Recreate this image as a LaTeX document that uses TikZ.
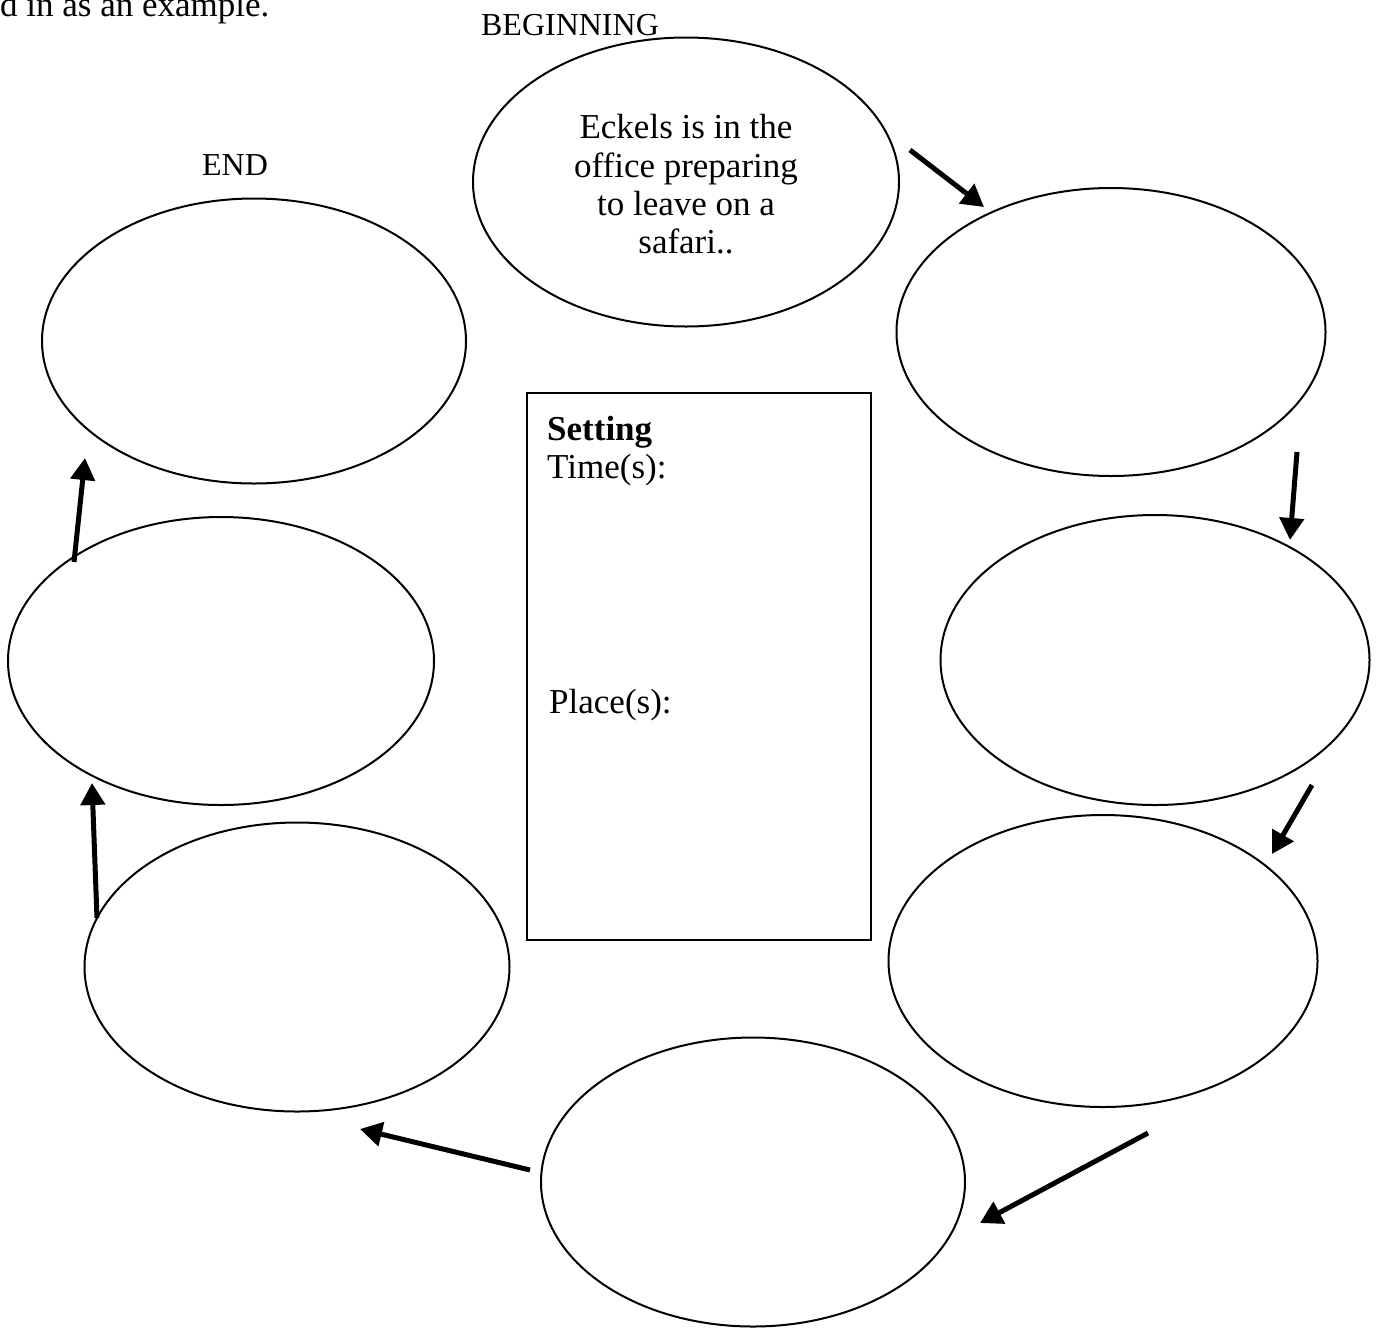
\documentclass[tikz,border=0pt]{standalone}
\usepackage{fontspec}
\setmainfont{Liberation Serif}
\usetikzlibrary{shapes.geometric,arrows.meta}
\begin{document}
\begin{tikzpicture}[x=1pt,y=-1pt,
  bubble/.style={draw,ellipse,line width=2pt,minimum width=#1},
  bubble/.default=426pt,
  txt/.style={font=\fontsize{35}{40}\selectfont,inner sep=0pt},
  lbl/.style={font=\fontsize{32}{38}\selectfont,inner sep=0pt},
  flow/.style={line width=5pt,-{Triangle[length=22pt,width=24pt]}}]
\useasboundingbox (0,0) rectangle (1380,1334);
% ellipses
\node[bubble, minimum height=289pt] (b0) at (686,182) {};
\node[bubble, minimum height=288pt, minimum width=429pt] (b1) at (1111,332) {};
\node[bubble, minimum height=290pt, minimum width=429pt] (b2) at (1155,660) {};
\node[bubble, minimum height=292pt, minimum width=429pt] (b3) at (1103,961) {};
\node[bubble, minimum height=289pt, minimum width=424pt] (b4) at (753,1182) {};
\node[bubble, minimum height=289pt, minimum width=425pt] (b5) at (297,967) {};
\node[bubble, minimum height=288pt, minimum width=426pt] (b6) at (221,661) {};
\node[bubble, minimum height=285pt, minimum width=424pt] (b7) at (254,341) {};
% setting box
\node[draw,line width=2pt,minimum width=344pt,minimum height=547pt,inner sep=0pt] (box) at (699,666.5) {};
% texts
\node[txt,anchor=base west] (intro) at (0,16) {d in as an example.};
\node[lbl,anchor=base] (beg) at (570,35) {BEGINNING};
\node[lbl,anchor=base] (endlbl) at (235,175) {END};
\node[txt,anchor=base] (l1) at (686,138) {Eckels is in the};
\node[txt,anchor=base] (l2) at (686,177) {office preparing};
\node[txt,anchor=base] (l3) at (686,215) {to leave on a};
\node[txt,anchor=base] (l4) at (686,253) {safari..};
\node[txt,anchor=base west] (set) at (547,440) {\bfseries Setting};
\node[txt,anchor=base west] (time) at (547,478) {Time(s):};
\node[txt,anchor=base west] (place) at (549,713) {Place(s):};
% arrows
\coordinate (a1s) at (910,150); \coordinate (a1e) at (984,207);
\coordinate (a2s) at (1297,452); \coordinate (a2e) at (1290,540);
\coordinate (a3s) at (1312,785); \coordinate (a3e) at (1272,854);
\coordinate (a4s) at (1148,1133); \coordinate (a4e) at (980,1223);
\coordinate (a5s) at (530,1170); \coordinate (a5e) at (360,1129);
\coordinate (a6s) at (97,918); \coordinate (a6e) at (92,783);
\coordinate (a7s) at (74,562); \coordinate (a7e) at (85,458);
\draw[flow] (a1s) -- (a1e);
\draw[flow] (a2s) -- (a2e);
\draw[flow] (a3s) -- (a3e);
\draw[flow] (a4s) -- (a4e);
\draw[flow] (a5s) -- (a5e);
\draw[flow] (a6s) -- (a6e);
\draw[flow] (a7s) -- (a7e);
\end{tikzpicture}
\end{document}
